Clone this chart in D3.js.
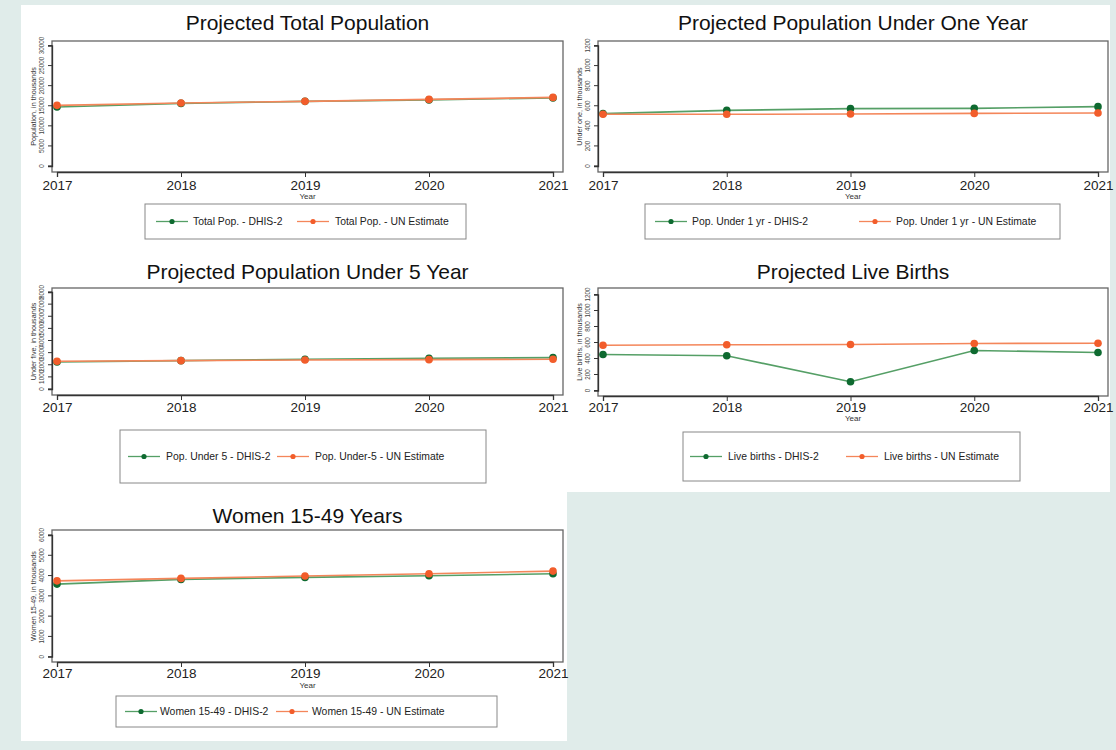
<!DOCTYPE html>
<html>
<head>
<meta charset="utf-8">
<script src="https://cdn.jsdelivr.net/npm/d3@7"></script>
<style>
  html, body { margin: 0; padding: 0; background: #e0ecea; }
  svg { display: block; font-family: "Liberation Sans", Arial, Helvetica, sans-serif; }
</style>
</head>
<body>
<svg id="chart" width="1116" height="750"></svg>
<script>
// Years on the x axis
const years = [2017, 2018, 2019, 2020, 2021];

// Series values, in thousands
const totalPopDHIS = [14680, 15590, 16090, 16460, 16960];
const totalPopUN   = [15100, 15670, 16090, 16580, 17080];
const underOneDHIS = [522, 554, 571, 574, 591];
const underOneUN   = [515, 515, 518, 524, 528];
const underFiveDHIS = [2230, 2340, 2450, 2530, 2590];
const underFiveUN   = [2290, 2340, 2390, 2420, 2450];
const birthsDHIS = [450, 434, 109, 500, 475];
const birthsUN   = [566, 571, 575, 588, 591];
const womenDHIS = [3580, 3810, 3910, 3990, 4090];
const womenUN   = [3740, 3860, 3980, 4090, 4220];

// Y tick labels for each panel
const totalTicks = [0, 5000, 10000, 15000, 20000, 25000, 30000];
const underOneTicks = [0, 200, 400, 600, 800, 1000, 1200];
const underFiveTicks = [0, 1000, 2000, 3000, 4000, 5000, 6000, 7000, 8000];
const birthTicks = [0, 200, 400, 600, 800, 1000, 1200];
const womenTicks = [0, 1000, 2000, 3000, 4000, 5000, 6000];

// Titles and legend text
const titles = ["Projected Total Population", "Projected Population Under One Year",
  "Projected Population Under 5 Year", "Projected Live Births", "Women 15-49 Years"];
const yTitles = ["Population, in thousands", "Under one, in thousands",
  "Under five, in thousands", "Live births, in thousands", "Women 15-49, in thousands"];
const legendDHIS = ["Total Pop. - DHIS-2", "Pop. Under 1 yr - DHIS-2",
  "Pop. Under 5 - DHIS-2", "Live births - DHIS-2", "Women 15-49 - DHIS-2"];
const legendUN = ["Total Pop. - UN Estimate", "Pop. Under 1 yr - UN Estimate",
  "Pop. Under-5 - UN Estimate", "Live births - UN Estimate", "Women 15-49 - UN Estimate"];

const GREEN_LINE = "#559f66", GREEN_DOT = "#0e6a30";
const ORANGE_LINE = "#f4865a", ORANGE_DOT = "#f25d2b";

const svg = d3.select("#chart");

// White backing sheets
svg.append("rect").attr("x", 21).attr("y", 5).attr("width", 1089).attr("height", 487).attr("fill", "#fff");
svg.append("rect").attr("x", 21).attr("y", 491).attr("width", 546).attr("height", 250).attr("fill", "#fff");

// Panel layout
const panels = [
  { dhis: totalPopDHIS, un: totalPopUN, ticks: totalTicks,
    left: 52, right: 563, top: 41, bottom: 172, y0: 166, yTop: 45.5,
    titleY: 30, labelY: 190, yearY: 199, showYear: true,
    legend: { x: 145, y: 204, w: 321, h: 35, g: 156, o: 297, tg: 193, to: 335 } },
  { dhis: underOneDHIS, un: underOneUN, ticks: underOneTicks,
    left: 598, right: 1108, top: 41, bottom: 172, y0: 166, yTop: 45.5,
    titleY: 30, labelY: 190, yearY: 199, showYear: true,
    legend: { x: 645, y: 204, w: 415, h: 35, g: 655, o: 859, tg: 692, to: 896 } },
  { dhis: underFiveDHIS, un: underFiveUN, ticks: underFiveTicks,
    left: 52, right: 563, top: 288, bottom: 395, y0: 389, yTop: 292,
    titleY: 279, labelY: 412, yearY: 0, showYear: false,
    legend: { x: 120, y: 430, w: 366, h: 53, g: 128, o: 277, tg: 166, to: 315 } },
  { dhis: birthsDHIS, un: birthsUN, ticks: birthTicks,
    left: 598, right: 1108, top: 288, bottom: 396, y0: 390.5, yTop: 294.5,
    titleY: 279, labelY: 412, yearY: 421, showYear: true,
    legend: { x: 683, y: 432, w: 337, h: 49, g: 690, o: 846, tg: 728, to: 884 } },
  { dhis: womenDHIS, un: womenUN, ticks: womenTicks,
    left: 52, right: 563, top: 530, bottom: 662, y0: 656.7, yTop: 535,
    titleY: 523, labelY: 678, yearY: 688, showYear: true,
    legend: { x: 116, y: 696, w: 381, h: 31, g: 125, o: 276, tg: 160, to: 312 } }
];

panels.forEach((p, i) => {
  const g = svg.append("g");
  const x = d3.scaleLinear().domain([2017, 2021]).range([p.left + 5, p.right - 10]);
  const y = d3.scaleLinear().domain([0, p.ticks[p.ticks.length - 1]]).range([p.y0, p.yTop]);

  // Title
  g.append("text").attr("x", (p.left + p.right) / 2).attr("y", p.titleY)
    .attr("text-anchor", "middle").attr("font-size", 21).attr("fill", "#111")
    .text(titles[i]);

  // Plot region outline
  g.append("rect").attr("x", p.left).attr("y", p.top)
    .attr("width", p.right - p.left).attr("height", p.bottom - p.top)
    .attr("fill", "#fff").attr("stroke", "#666").attr("stroke-width", 1.3);

  // Y axis
  const yAxis = d3.axisLeft(y).tickValues(p.ticks).tickSize(4).tickPadding(2).tickFormat(d3.format("d"));
  const ya = g.append("g").attr("transform", `translate(${p.left},0)`).call(yAxis);
  ya.select(".domain").attr("stroke", "#333").attr("stroke-width", 1.3);
  ya.selectAll(".tick line").attr("stroke", "#333");
  ya.selectAll(".tick text")
    .attr("font-size", 6.3).attr("fill", "#444")
    .attr("text-anchor", "middle").attr("dy", 0)
    .attr("transform", d => `translate(${-8},${y(d)}) rotate(-90)`)
    .attr("x", 0).attr("y", 0);
  ya.selectAll(".tick").attr("transform", null);
  ya.selectAll(".tick line").attr("transform", d => `translate(0,${y(d)})`);

  // Y axis title
  g.append("text")
    .attr("transform", `translate(${p.left - 16},${(p.top + p.bottom) / 2}) rotate(-90)`)
    .attr("text-anchor", "middle").attr("font-size", 7.2).attr("fill", "#333")
    .text(yTitles[i]);

  // X axis
  const xAxis = d3.axisBottom(x).tickValues(years).tickSize(5).tickFormat(d3.format("d"));
  const xa = g.append("g").attr("transform", `translate(0,${p.bottom})`).call(xAxis);
  xa.select(".domain").attr("stroke", "#333").attr("stroke-width", 1.3);
  xa.selectAll(".tick line").attr("stroke", "#333");
  xa.selectAll(".tick text").attr("font-size", 13.5).attr("fill", "#222")
    .attr("dy", 0).attr("y", p.labelY - p.bottom);
  if (p.showYear) {
    g.append("text").attr("x", (p.left + p.right) / 2).attr("y", p.yearY)
      .attr("text-anchor", "middle").attr("font-size", 8).attr("fill", "#333").text("Year");
  }

  // Series: DHIS-2 first, UN estimate on top
  const line = d3.line().x((d, k) => x(years[k])).y(d => y(d));
  [[p.dhis, GREEN_LINE, GREEN_DOT], [p.un, ORANGE_LINE, ORANGE_DOT]].forEach(([vals, lc, dc]) => {
    g.append("path").datum(vals).attr("d", line)
      .attr("fill", "none").attr("stroke", lc).attr("stroke-width", 1.6);
    g.selectAll(null).data(vals).enter().append("circle")
      .attr("cx", (d, k) => x(years[k])).attr("cy", d => y(d))
      .attr("r", 3.8).attr("fill", dc);
  });

  // Legend
  const L = p.legend;
  const lg = g.append("g");
  lg.append("rect").attr("x", L.x).attr("y", L.y).attr("width", L.w).attr("height", L.h)
    .attr("fill", "#fff").attr("stroke", "#888").attr("stroke-width", 1);
  const ly = L.y + L.h / 2;
  [[L.g, L.tg, GREEN_LINE, GREEN_DOT, legendDHIS[i]],
   [L.o, L.to, ORANGE_LINE, ORANGE_DOT, legendUN[i]]].forEach(([lx, tx, lc, dc, label]) => {
    lg.append("line").attr("x1", lx).attr("x2", lx + 32).attr("y1", ly).attr("y2", ly)
      .attr("stroke", lc).attr("stroke-width", 1.3);
    lg.append("circle").attr("cx", lx + 16).attr("cy", ly).attr("r", 2.6).attr("fill", dc);
    lg.append("text").attr("x", tx).attr("y", ly + 3.5).attr("font-size", 10.4)
      .attr("fill", "#222").text(label);
  });
});
</script>
</body>
</html>
